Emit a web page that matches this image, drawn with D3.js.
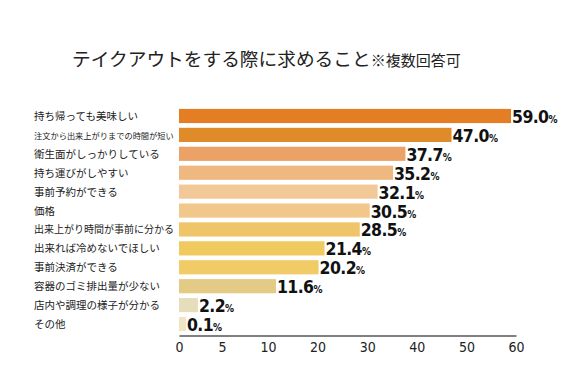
<!DOCTYPE html>
<html><head><meta charset="utf-8">
<script src="https://cdn.jsdelivr.net/npm/d3@7"></script>
<style>
html,body{margin:0;padding:0;background:#fff;}
.num{font-family:'DejaVu Sans Condensed','DejaVu Sans',sans-serif;font-stretch:condensed;}
</style></head>
<body>
<svg id="chart" width="584" height="387"></svg>
<script>
const categories = [
  "持ち帰っても美味しい",
  "注文から出来上がりまでの時間が短い",
  "衛生面がしっかりしている",
  "持ち運びがしやすい",
  "事前予約ができる",
  "価格",
  "出来上がり時間が事前に分かる",
  "出来れば冷めないでほしい",
  "事前決済ができる",
  "容器のゴミ排出量が少ない",
  "店内や調理の様子が分かる",
  "その他"
];
const values = [59.0, 47.0, 37.7, 35.2, 32.1, 30.5, 28.5, 21.4, 20.2, 11.6, 2.2, 0.1];
const tickValues = [0, 5, 10, 20, 30, 40, 50, 60];
const barColors = ["#E37E24","#E08B2A","#EBA266","#EFB880","#F3C899","#F2C78C",
                   "#F0C468","#F0CA5E","#F0CB66","#E4CB85","#E6DDBB","#F0E6C6"];

const svg = d3.select("#chart");
const jp = "'Noto Sans CJK JP','Noto Sans',sans-serif";

// title
const title = svg.append("text").attr("x", 72).attr("y", 66)
  .attr("font-family", jp).attr("fill", "#222");
title.append("tspan").attr("font-size", 18.7).text("テイクアウトをする際に求めること");
title.append("tspan").attr("font-size", 15).text("※複数回答可");

const x = d3.scaleLinear().domain([0, 5, 10, 60]).range([179, 222, 268, 516]);
const y = d3.scaleBand().domain(categories).range([107, 333]).paddingInner(0.25).paddingOuter(0.1);

// bars
svg.append("g").selectAll("rect").data(values).join("rect")
  .attr("x", x(0))
  .attr("y", (d, i) => y(categories[i]))
  .attr("width", d => Math.max(x(d) - x(0), 7))
  .attr("height", y.bandwidth())
  .attr("fill", (d, i) => barColors[i]);

// category labels
svg.append("g").selectAll("text").data(categories).join("text")
  .attr("x", 34)
  .attr("y", d => y(d) + y.bandwidth() / 2 + 4)
  .attr("font-family", jp).attr("font-size", 10.5).attr("fill", "#222")
  .text(d => d)
  .each(function () {
    const w = this.getComputedTextLength();
    if (w > 140) d3.select(this).attr("font-size", 10.5 * 140 / w);
  });

// value labels
const vl = svg.append("g").selectAll("text").data(values).join("text")
  .attr("class", "num")
  .attr("x", d => x(0) + Math.max(x(d) - x(0), 7) + 1)
  .attr("y", (d, i) => y(categories[i]) + y.bandwidth() / 2 + 7)
  .attr("font-weight", "bold").attr("fill", "#111");
vl.append("tspan").attr("font-size", 17.5).attr("letter-spacing", -0.6).text(d => d.toFixed(1));
vl.append("tspan").attr("font-size", 10).text("%");

// axis
const axis = d3.axisBottom(x).tickValues(tickValues).tickSize(0).tickPadding(7);
const ag = svg.append("g").attr("transform", "translate(0,335.5)").call(axis);
ag.select(".domain").attr("stroke", "#808080").attr("stroke-width", 2);
ag.selectAll(".tick text").attr("class", "num").attr("font-size", 14).attr("fill", "#222");
</script>
</body></html>
